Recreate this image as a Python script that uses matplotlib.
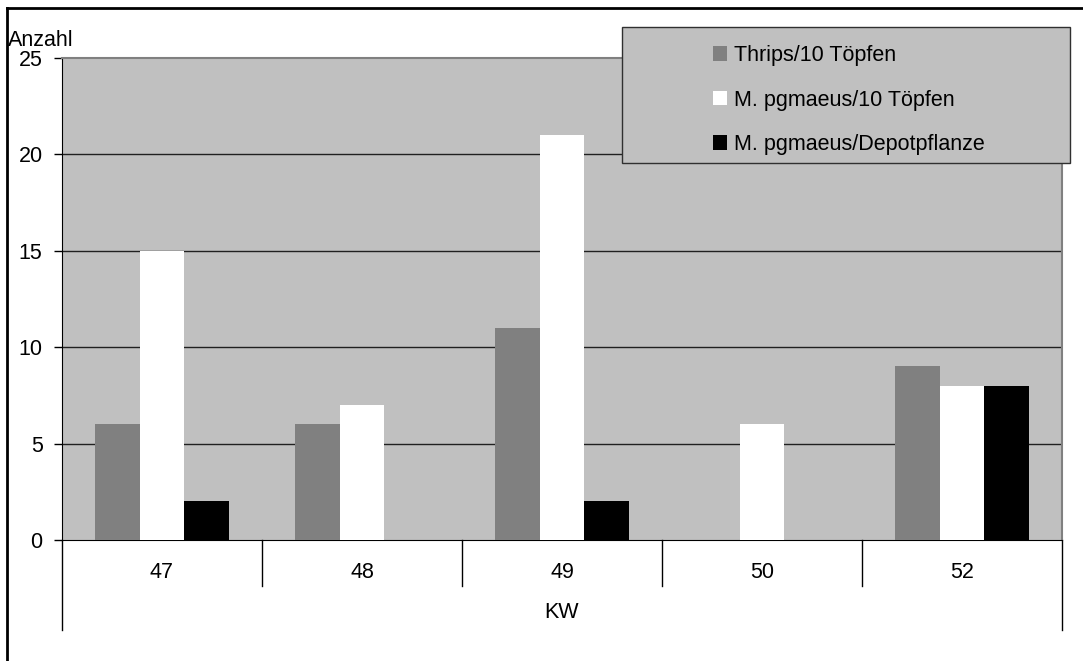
import matplotlib
matplotlib.use("Agg")
import matplotlib.pyplot as plt
import matplotlib.transforms as mtransforms
from matplotlib.patches import Rectangle, Patch
from matplotlib.lines import Line2D
import numpy as np

plt.rcParams['font.family'] = ['Liberation Sans', 'DejaVu Sans']

# Calendar weeks and counts
weeks = ["47", "48", "49", "50", "52"]
thrips = [6, 6, 11, 0, 9]
pgmaeus_pots = [15, 7, 21, 6, 8]
pgmaeus_depot = [2, 0, 2, 0, 8]
series_names = ["Thrips/10 Töpfen", "M. pgmaeus/10 Töpfen", "M. pgmaeus/Depotpflanze"]
series_colors = ["#808080", "#FFFFFF", "#000000"]
y_ticks = [0, 5, 10, 15, 20, 25]

W, H = 1083, 661
fig = plt.figure(figsize=(W / 100, H / 100), dpi=100)
FS = 15.5

# plot area in pixel geometry
left, right, top, bottom = 62, 1062, 58, 540
ax = fig.add_axes([left / W, 1 - bottom / H, (right - left) / W, (bottom - top) / H])
ax.set_facecolor("#C0C0C0")

x = np.arange(len(weeks))
bw = 0.224
for i, (vals, col) in enumerate(zip([thrips, pgmaeus_pots, pgmaeus_depot], series_colors)):
    ax.bar(x + (i - 1) * bw, vals, width=bw, color=col, edgecolor="none", zorder=3)

ax.set_xlim(-0.5, len(weeks) - 0.5)
ax.set_ylim(0, 25)
ax.set_yticks(y_ticks)
ax.set_yticklabels([str(t) for t in y_ticks], fontsize=FS)
ax.tick_params(axis="y", length=6, width=1, direction="out", pad=8, color="#000000")
ax.set_xticks(x)
ax.set_xticklabels(weeks, fontsize=FS)
ax.tick_params(axis="x", length=0, pad=16)

for y in y_ticks[1:-1]:
    ax.axhline(y, color="#202020", lw=1, zorder=1)

ax.spines["top"].set_color("#808080")
ax.spines["right"].set_color("#808080")
ax.spines["top"].set_linewidth(1.5)
ax.spines["right"].set_linewidth(1.5)
ax.spines["left"].set_color("#000000")
ax.spines["bottom"].set_color("#000000")

# category dividers below the axis
trans = mtransforms.blended_transform_factory(ax.transData, ax.transAxes)
ph = bottom - top
short = -(586 - bottom) / ph
long_ = -(630 - bottom) / ph
for b in np.arange(-0.5, len(weeks), 1.0):
    y1 = long_ if b in (-0.5, len(weeks) - 0.5) else short
    ax.add_line(Line2D([b, b], [0, y1], transform=trans, color="#000000", lw=1, clip_on=False))

ax.text(0.5, -(613 - bottom) / ph, "KW", transform=ax.transAxes, ha="center", va="center", fontsize=FS)
fig.text(8 / W, 1 - 40 / H, "Anzahl", ha="left", va="center", fontsize=FS)

# outer frame (top and left edges)
fig.add_artist(Line2D([7 / W, 1], [1 - 8 / H, 1 - 8 / H], transform=fig.transFigure, color="#000000", lw=2))
fig.add_artist(Line2D([7 / W, 7 / W], [0, 1 - 8 / H], transform=fig.transFigure, color="#000000", lw=2))

# legend box
lx0, lx1, ly0, ly1 = 622, 1070, 27, 163
fig.add_artist(Rectangle((lx0 / W, 1 - ly1 / H), (lx1 - lx0) / W, (ly1 - ly0) / H,
                         transform=fig.transFigure, facecolor="#C0C0C0", edgecolor="#303030",
                         lw=1, zorder=5))
handles = [Patch(facecolor=c, edgecolor="none") for c in series_colors]
leg = fig.legend(handles, series_names, loc="upper left",
                 bbox_to_anchor=(698 / W, 1 - 30 / H), frameon=False, fontsize=FS,
                 handlelength=0.65, handleheight=0.65, handletextpad=0.3, labelspacing=1.09,
                 borderpad=0.2)
leg.set_zorder(6)

fig.savefig("out.png", dpi=100)
